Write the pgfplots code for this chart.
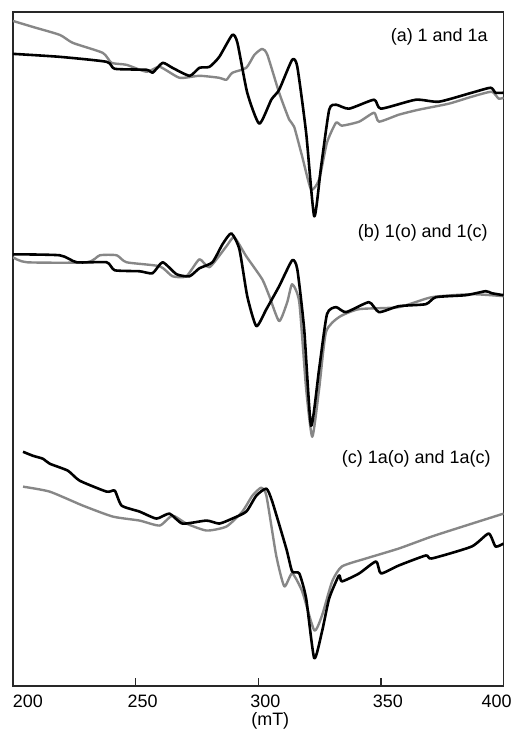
\documentclass[border=0pt]{standalone}
\usepackage{pgfplots}
\pgfplotsset{compat=1.18}
\usepackage{fontspec}
\setmainfont{Liberation Sans}
\definecolor{specgray}{RGB}{135,135,135}
\definecolor{framec}{RGB}{40,40,40}
\begin{document}
\fontsize{18}{21}\selectfont
\begin{tikzpicture}
\begin{axis}[
  scale only axis,
  width=492pt, height=676pt,
  xmin=200, xmax=400, ymin=42, ymax=718,
  axis line style={framec, line width=1.3pt},
  xtick={250,300,350},
  xticklabels={250,300,350},
  ytick=\empty,
  xtick pos=bottom,
  tick align=inside,
  major tick length=8pt,
  tick style={framec, line width=1.3pt},
  xticklabel style={xshift=7pt, yshift=-9pt, inner ysep=0pt, font=\fontsize{18}{21}\selectfont},
  extra x ticks={200,400},
  extra x tick labels={\makebox[0pt][l]{\hspace*{-7pt}200},\makebox[0pt][r]{400\hspace*{-1pt}}},
  extra x tick style={major tick length=0pt},
  /pgf/number format/assume math mode=true,
  xlabel={(mT)},
  xlabel style={at={(rel axis cs:0.5,0)}, anchor=north, xshift=12pt, yshift=-26.5pt, inner sep=0pt, font=\fontsize{18}{21}\selectfont},
  every axis plot/.append style={smooth, tension=0.35, line join=round},
  clip=true,
]
% ---------- panel (a) ----------
\addplot[specgray, line width=2.4pt] coordinates {
(200,709)(208.1,703)(219.1,695)(224.4,687)(236.6,677)(240.2,667)(246.3,665)
(254.5,658)(259.8,663)(267.9,652)(276.0,654)(284.1,652)(287.0,650)(289.4,657)
(295.1,662)(298.4,675)(301.6,681)(303.7,675)(308.5,637)(312.6,610)(314.6,603)
(317.9,573)(321.5,540)(324.8,550)(328.0,587)(331.7,607)(334.1,604)(341.1,608)
(347.2,617)(349.2,608)(357.3,615)(365.4,620)(377.6,626)(387.0,633)(395.1,638)
(398.0,631)(400,632)};
\addplot[black, line width=2.6pt] coordinates {
(200,676)(219.1,673)(238.2,668)(241.5,661)(254.5,660)(256.9,657)(261.0,667)
(265.0,662)(272.0,654)(276.0,662)(280.1,663)(284.1,673)(289.4,695)(291.5,687)
(295.5,637)(300.4,606)(305.3,630)(308.5,640)(313.8,670)(315.9,663)(319.5,597)
(322.8,513)(325.6,563)(328.9,620)(331.7,625)(337.0,621)(347.2,630)(350.0,621)
(364.2,630)(373.6,628)(387.0,637)(394.7,642)(396.7,637)(400,637)};
% ---------- panel (b) ----------
\addplot[specgray, line width=2.4pt] coordinates {
(200,472)(205.7,467)(230.1,467)(235.4,474)(242.3,474)(246.3,467)(259.8,463)
(265.0,453)(270.7,453)(276.0,470)(280.1,462)(287.0,483)(290.2,492)(295.1,473)
(301.6,450)(304.5,433)(308.5,408)(311.8,427)(313.8,445)(316.7,427)(319.5,340)
(322.0,292)(324.8,340)(327.6,397)(332.9,412)(341.1,420)(357.3,422)(370.7,432)
(387.0,435)(400,433)};
\addplot[black, line width=2.6pt] coordinates {
(200,475)(219.1,474)(226.0,467)(238.2,467)(241.5,459)(251.6,458)(256.9,456)
(261.0,467)(266.7,455)(272.0,453)(276.0,461)(281.3,467)(285.4,485)(289.0,496)
(292.3,480)(295.5,433)(299.2,403)(303.3,420)(308.5,443)(313.8,469)(315.9,460)
(318.7,400)(321.5,303)(324.8,360)(328.0,415)(331.7,422)(335.8,417)(345.1,427)
(349.2,417)(357.3,423)(368.3,425)(372.4,432)(384.6,434)(392.7,438)(395.1,436)
(400,434)};
% ---------- panel (c) ----------
\addplot[specgray, line width=2.4pt] coordinates {
(204.1,242)(215.0,237)(228.5,223)(240.7,212)(251.6,208)(259.8,203)(265.0,213)
(270.7,205)(278.9,198)(287.0,202)(293.5,217)(297.6,233)(301.2,241)(303.3,233)
(307.3,173)(310.6,142)(313.8,155)(317.9,137)(322.8,98)(326.0,113)(330.1,147)
(334.1,162)(343.9,170)(357.3,180)(370.7,192)(384.6,203)(400,215)};
\addplot[black, line width=2.6pt] coordinates {
(204.1,277)(208.1,273)(212.2,270)(215.0,265)(222.4,258)(227.2,248)(238.2,237)
(241.5,238)(244.3,223)(251.6,217)(258.5,210)(263.8,215)(269.1,205)(278.9,208)
(284.1,205)(289.4,210)(295.1,217)(299.2,233)(303.3,240)(305.7,227)(311.4,180)
(313.8,157)(316.7,155)(319.5,130)(322.8,70)(326.0,97)(328.9,130)(332.9,153)
(334.1,147)(341.1,155)(348.0,167)(350.0,155)(357.3,163)(368.3,173)(370.7,170)
(387.0,182)(393.9,195)(396.7,182)(400,185)};
\node[anchor=east, font=\fontsize{18}{21}\selectfont] at (rel axis cs:0.98,0.963) {(a) 1 and 1a};
\node[anchor=east, font=\fontsize{18}{21}\selectfont] at (rel axis cs:0.98,0.673) {(b) 1(o) and 1(c)};
\node[anchor=east, font=\fontsize{18}{21}\selectfont] at (rel axis cs:0.986,0.337) {(c) 1a(o) and 1a(c)};
\end{axis}
\pgfresetboundingbox
\path ([xshift=-13pt,yshift=-44pt]current axis.south west) rectangle ([xshift=8pt,yshift=12pt]current axis.north east);
\end{tikzpicture}
\end{document}
